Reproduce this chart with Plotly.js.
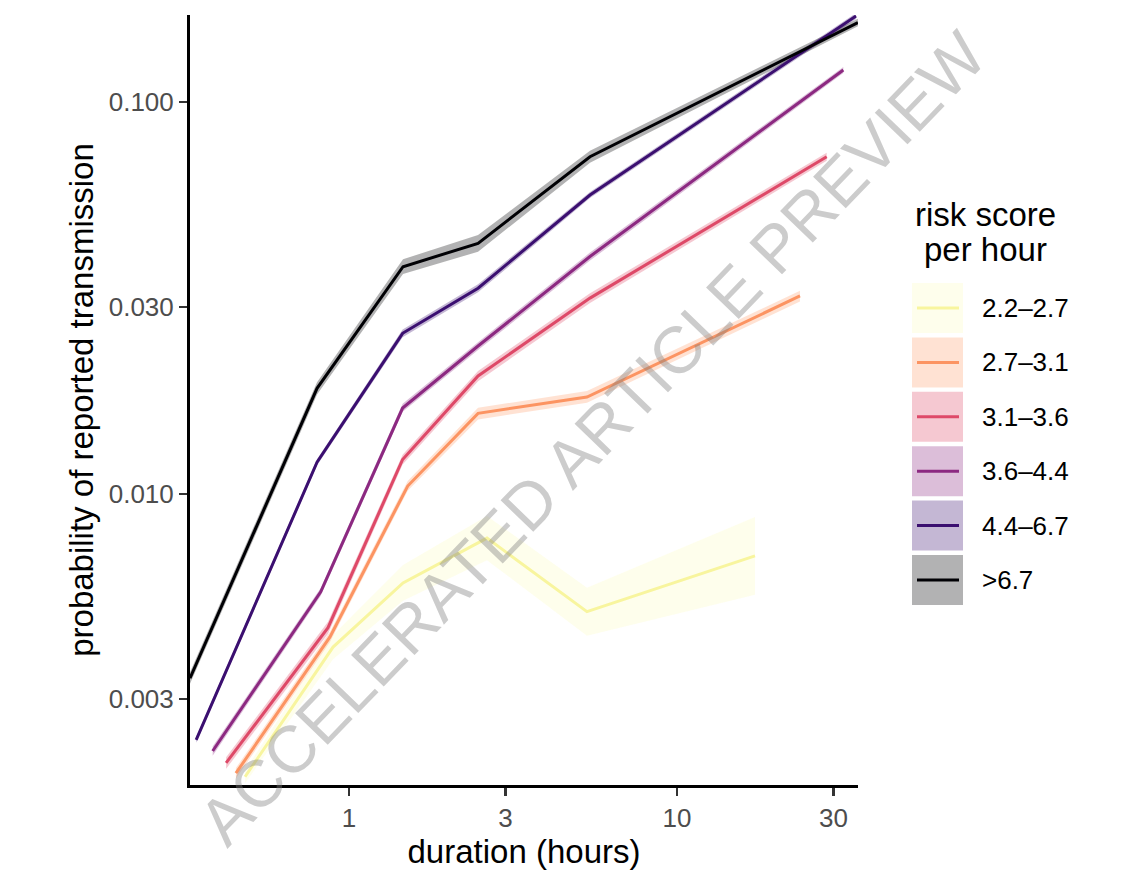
<!DOCTYPE html>
<html>
<head>
<meta charset="utf-8">
<script src="https://cdn.plot.ly/plotly-3.0.1.min.js"></script>
<style>
  html, body { margin: 0; padding: 0; background: #ffffff; }
  #chart { width: 1139px; height: 886px; }
</style>
</head>
<body>
<div id="chart"></div>
<script>
// Risk-score groups (lowest to highest), as listed in the legend
const groupNames = ['2.2\u20132.7', '2.7\u20133.1', '3.1\u20133.6', '3.6\u20134.4', '4.4\u20136.7', '>6.7'];
const lineColors = ['#F8F59E', '#FC9462', '#DE4968', '#8C2981', '#3B0F70', '#000004'];
const bandColors = ['rgba(252,253,191,0.3)', 'rgba(254,159,109,0.3)', 'rgba(222,73,104,0.3)',
                    'rgba(140,41,129,0.3)', 'rgba(59,15,112,0.3)', 'rgba(0,0,4,0.3)'];

// Mean duration (hours) of each duration bin, per group
const dur_22_27 = [0.482, 0.894, 1.461, 2.634, 5.315, 17.29];
const dur_27_31 = [0.452, 0.875, 1.510, 2.474, 5.315, 23.71];
const dur_31_36 = [0.422, 0.863, 1.457, 2.474, 5.429, 28.6];
const dur_36_44 = [0.384, 0.820, 1.457, 2.474, 5.429, 32.14];
const dur_44_67 = [0.342, 0.799, 1.457, 2.474, 5.429, 35.14];
const dur_gt67  = [0.3275, 0.799, 1.461, 2.474, 5.429, 35.6];

// Estimated probability of reported transmission
const p_22_27 = [0.00190, 0.00407, 0.00593, 0.00772, 0.00501, 0.00695];
const p_27_31 = [0.00194, 0.00432, 0.01048, 0.01606, 0.01768, 0.0320];
const p_31_36 = [0.00206, 0.00456, 0.01225, 0.0200, 0.0316, 0.0725];
const p_36_44 = [0.00221, 0.00563, 0.01657, 0.02385, 0.04035, 0.1207];
const p_44_67 = [0.00236, 0.01205, 0.0257, 0.0335, 0.0579, 0.1657];
const p_gt67  = [0.00339, 0.0186, 0.0380, 0.0436, 0.0725, 0.1595];

// Lower confidence bounds
const lo_22_27 = [0.00183, 0.00379, 0.00534, 0.00678, 0.00435, 0.00553];
const lo_27_31 = [0.00188, 0.00419, 0.0102, 0.0155, 0.0171, 0.0310];
const lo_31_36 = [0.00199, 0.00440, 0.0119, 0.0194, 0.0307, 0.0708];
const lo_36_44 = [0.00215, 0.00550, 0.0162, 0.0233, 0.0394, 0.1186];
const lo_44_67 = [0.00232, 0.01184, 0.0251, 0.0327, 0.0569, 0.1628];
const lo_gt67  = [0.00328, 0.01795, 0.0364, 0.0415, 0.0700, 0.1560];

// Upper confidence bounds
const hi_22_27 = [0.00197, 0.00437, 0.00659, 0.00879, 0.00577, 0.00874];
const hi_27_31 = [0.00200, 0.00445, 0.0108, 0.0166, 0.0183, 0.0330];
const hi_31_36 = [0.00213, 0.00472, 0.0126, 0.0206, 0.0325, 0.0742];
const hi_36_44 = [0.00227, 0.00576, 0.0170, 0.0244, 0.0413, 0.1228];
const hi_44_67 = [0.00240, 0.01226, 0.0263, 0.0343, 0.0589, 0.1686];
const hi_gt67  = [0.00351, 0.01928, 0.0397, 0.0458, 0.0751, 0.1630];

const xTickVals = [1, 3, 10, 30];
const xTickText = ['1', '3', '10', '30'];
const yTickVals = [0.003, 0.01, 0.03, 0.1];
const yTickText = ['0.003', '0.010', '0.030', '0.100'];

const durs = [dur_22_27, dur_27_31, dur_31_36, dur_36_44, dur_44_67, dur_gt67];
const probs = [p_22_27, p_27_31, p_31_36, p_36_44, p_44_67, p_gt67];
const lows = [lo_22_27, lo_27_31, lo_31_36, lo_36_44, lo_44_67, lo_gt67];
const highs = [hi_22_27, hi_27_31, hi_31_36, hi_36_44, hi_44_67, hi_gt67];

const FONT = '"Liberation Sans", Arial, Helvetica, sans-serif';
const W = 1139, H = 886;
const M = { l: 190, r: 281, t: 15, b: 101 };
const plotW = W - M.l - M.r, plotH = H - M.t - M.b;
const px2x = px => (px - M.l) / plotW;
const px2y = py => 1 - (py - M.t) / plotH;

const traces = [];
// confidence ribbons first, then the lines on top
groupNames.forEach((name, i) => {
  traces.push({
    x: durs[i], y: lows[i], type: 'scatter', mode: 'lines',
    line: { width: 0, color: bandColors[i] }, hoverinfo: 'skip', showlegend: false
  });
  traces.push({
    x: durs[i], y: highs[i], type: 'scatter', mode: 'lines', fill: 'tonexty',
    fillcolor: bandColors[i], line: { width: 0, color: bandColors[i] },
    hoverinfo: 'skip', showlegend: false
  });
});
groupNames.forEach((name, i) => {
  traces.push({
    x: durs[i], y: probs[i], type: 'scatter', mode: 'lines', name: name,
    line: { color: lineColors[i], width: 3 }, showlegend: false
  });
});

// legend drawn as ggplot-style keys: shaded box with a line through it
const shapes = [];
const annotations = [];
const keyTop = 283, keyPitch = 54.4, keyH = 50, keyL = 912, keyR = 963;
groupNames.forEach((name, i) => {
  const top = keyTop + i * keyPitch;
  const mid = top + keyH / 2;
  shapes.push({
    type: 'rect', xref: 'paper', yref: 'paper',
    x0: px2x(keyL), x1: px2x(keyR), y0: px2y(top + keyH), y1: px2y(top),
    fillcolor: bandColors[i], line: { width: 0 }
  });
  shapes.push({
    type: 'line', xref: 'paper', yref: 'paper',
    x0: px2x(917), x1: px2x(959), y0: px2y(mid), y1: px2y(mid),
    line: { color: lineColors[i], width: 3 }
  });
  annotations.push({
    xref: 'paper', yref: 'paper', x: px2x(980), y: px2y(mid),
    xanchor: 'left', yanchor: 'middle', showarrow: false, text: name,
    font: { family: FONT, size: 26, color: '#000000' }
  });
});
annotations.push({
  xref: 'paper', yref: 'paper', x: px2x(985), y: px2y(214),
  xanchor: 'center', yanchor: 'middle', showarrow: false, text: 'risk score',
  font: { family: FONT, size: 33, color: '#000000' }
});
annotations.push({
  xref: 'paper', yref: 'paper', x: px2x(985), y: px2y(249),
  xanchor: 'center', yanchor: 'middle', showarrow: false, text: 'per hour',
  font: { family: FONT, size: 33, color: '#000000' }
});
// diagonal preview stamp
annotations.push({
  xref: 'paper', yref: 'paper', x: px2x(592), y: px2y(438),
  xanchor: 'center', yanchor: 'middle', showarrow: false,
  text: 'ACCELERATED ARTICLE PREVIEW', textangle: -46,
  font: { family: FONT, size: 66, color: 'rgba(128,128,128,0.4)' }
});

const layout = {
  width: W, height: H,
  margin: M,
  paper_bgcolor: '#ffffff', plot_bgcolor: '#ffffff',
  showlegend: false,
  font: { family: FONT },
  xaxis: {
    type: 'log', range: [Math.log10(0.3275), Math.log10(35.63)],
    tickvals: xTickVals, ticktext: xTickText,
    ticks: 'outside', ticklen: 8, tickwidth: 2.5, tickcolor: '#333333',
    showline: true, linecolor: '#000000', linewidth: 3,
    showgrid: false, zeroline: false,
    tickfont: { family: FONT, size: 26, color: '#4D4D4D' },
    title: { text: 'duration (hours)', font: { family: FONT, size: 33, color: '#000000' }, standoff: 8 }
  },
  yaxis: {
    type: 'log', range: [Math.log10(0.00181), Math.log10(0.1667)],
    tickvals: yTickVals, ticktext: yTickText,
    ticks: 'outside', ticklen: 8, tickwidth: 2.5, tickcolor: '#333333',
    showline: true, linecolor: '#000000', linewidth: 3,
    showgrid: false, zeroline: false,
    tickfont: { family: FONT, size: 26, color: '#4D4D4D' },
    title: { text: 'probability of reported transmission', font: { family: FONT, size: 33, color: '#000000' }, standoff: 6 }
  },
  shapes: shapes,
  annotations: annotations
};

Plotly.newPlot('chart', traces, layout, { displayModeBar: false, staticPlot: true });
</script>
</body>
</html>
